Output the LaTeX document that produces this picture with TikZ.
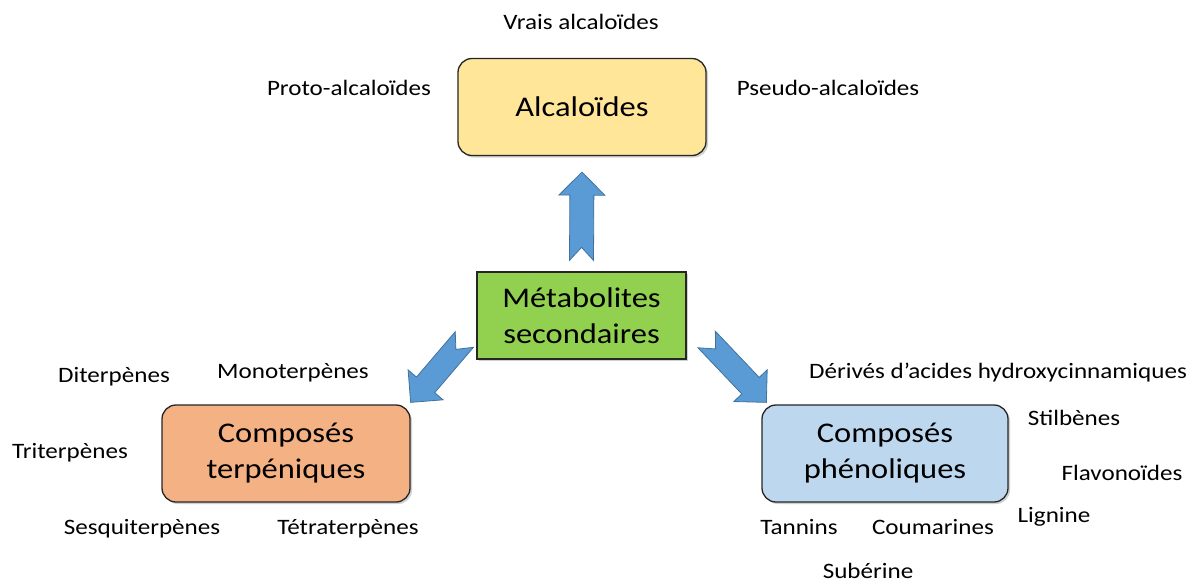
\documentclass[tikz,border=0pt]{standalone}
\usepackage{fontspec}
\setmainfont{Carlito}[FakeStretch=1.14]
\usetikzlibrary{calc,shadows}
\definecolor{alcY}{HTML}{FFE699}
\definecolor{metG}{HTML}{92D050}
\definecolor{terO}{HTML}{F4B183}
\definecolor{phenB}{HTML}{BDD7EE}
\definecolor{arrB}{HTML}{5B9BD5}
\definecolor{arrE}{HTML}{41719C}
\newcommand\blockarrow[2]{%
  \coordinate (ba-h) at ($(#2)!23pt!(#1)$);
  \filldraw[barrow] ($(#1)!12pt!90:(#2)$) -- ($(ba-h)!12pt!90:(#2)$)
    -- ($(ba-h)!23pt!90:(#2)$) -- (#2) -- ($(ba-h)!23pt!-90:(#2)$)
    -- ($(ba-h)!12pt!-90:(#2)$) -- ($(#1)!12pt!-90:(#2)$)
    -- ($(#1)!13pt!(#2)$) -- cycle;}
\begin{document}
\begin{tikzpicture}[x=1pt,y=-1pt,
  box/.style={draw=black!85, line width=1.3pt, rounded corners=14pt, align=center,
    font=\fontsize{28.5}{36}\selectfont, inner sep=0pt,
    drop shadow={shadow xshift=2pt,shadow yshift=-2pt,opacity=.3,fill=black!60}},
  lbl/.style={font=\fontsize{22}{26}\selectfont, inner sep=0pt, text height=15pt, text depth=0pt},
  barrow/.style={fill=arrB, draw=arrE, line width=0.8pt, line join=miter}]
\useasboundingbox[fill=white] (0,0) rectangle (1202,587);

\node[box, fill=alcY, minimum width=248pt, minimum height=97pt] (alc) at (582,107) {Alcaloïdes};
\node[box, fill=metG, sharp corners, minimum width=209pt, minimum height=87pt] (meta) at (581.5,315.5) {Métabolites\\secondaires};
\node[box, fill=terO, minimum width=248pt, minimum height=97pt] (terp) at (286,453.5) {Composés\\terpéniques};
\node[box, fill=phenB, minimum width=246pt, minimum height=97pt] (phen) at (885,453.5) {Composés\\phénoliques};

\coordinate (upA) at ($(meta.north)+(0,-11)$);
\coordinate (upB) at ($(alc.south)+(0,16)$);
\coordinate (lA) at ($(meta.west)+(-12,24)$);
\coordinate (lB) at ($(terp.north east)+(0,-2)$);
\coordinate (rA) at ($(meta.east)+(20,24)$);
\coordinate (rB) at ($(phen.north west)+(5,-2)$);
\blockarrow{upA}{upB}
\blockarrow{lA}{lB}
\blockarrow{rA}{rB}

\node[lbl] (vrais) at (581,22) {Vrais alcaloïdes};
\node[lbl] (proto) at (349,88) {Proto-alcaloïdes};
\node[lbl] (pseudo) at (828,88) {Pseudo-alcaloïdes};

\node[lbl] (di) at (114,375) {Diterpènes};
\node[lbl] (mono) at (293,371) {Monoterpènes};
\node[lbl] (tri) at (70,451) {Triterpènes};
\node[lbl] (sesq) at (142,527) {Sesquiterpènes};
\node[lbl] (tetra) at (348,527) {Tétraterpènes};

\node[lbl] (deriv) at (998,371) {Dérivés d’acides hydroxycinnamiques};
\node[lbl] (stil) at (1074,418) {Stilbènes};
\node[lbl] (flav) at (1122,473) {Flavonoïdes};
\node[lbl] (lign) at (1054,515) {Lignine};
\node[lbl] (tann) at (799,527) {Tannins};
\node[lbl] (coum) at (933,527) {Coumarines};
\node[lbl] (sube) at (868,571) {Subérine};
\end{tikzpicture}
\end{document}
